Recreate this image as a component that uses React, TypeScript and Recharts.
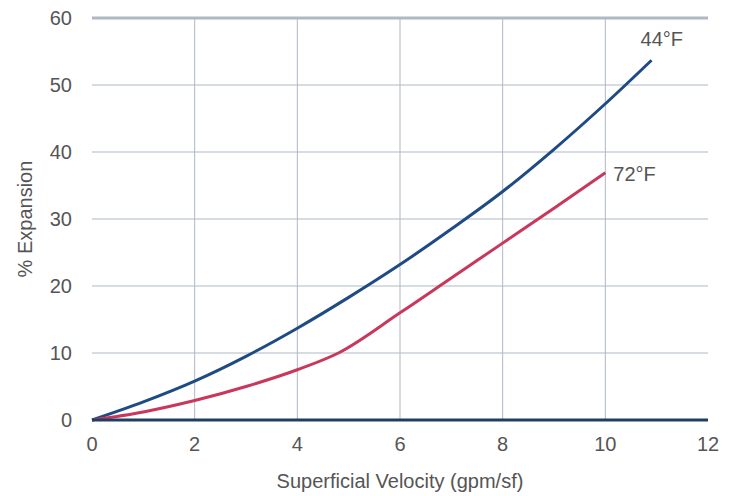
import React from 'react';
import { LineChart, Line, XAxis, YAxis, CartesianGrid, ReferenceLine } from 'recharts';

const xTicks = [0, 2, 4, 6, 8, 10, 12];
const yTicks = [0, 10, 20, 30, 40, 50, 60];
const gridX = [2, 4, 6, 8, 10];

const velocity44 = [0, 1, 2, 3, 4, 5, 6, 7, 8, 9, 10, 10.9];
const expansion44 = [0, 2.7, 5.8, 9.5, 13.7, 18.3, 23.2, 28.5, 34.1, 40.4, 47.2, 53.7];
const velocity72 = [0, 1, 2, 3, 4, 4.8, 6, 7, 8, 9, 10];
const expansion72 = [0, 1.2, 2.9, 5.0, 7.5, 10.0, 16.0, 21.2, 26.4, 31.6, 36.9];

const label44 = '44°F';
const label72 = '72°F';

const data44 = velocity44.map((x, i) => ({ x, y: expansion44[i] }));
const data72 = velocity72.map((x, i) => ({ x, y: expansion72[i] }));

const FONT = "'Liberation Sans', Arial, sans-serif";
const TEXT = '#555555';
const GRID = '#aeb9c4';
const BLUE = '#1f4b85';
const RED = '#c8385c';

const endLabel = (text: string, n: number, dx: number, dy: number) => (props: any) => {
  if (props.index !== n - 1) return null;
  return (
    <text
      x={props.x + dx}
      y={props.y + dy}
      fill={TEXT}
      fontSize={20}
      fontFamily={FONT}
      textAnchor="start"
      dominantBaseline="central"
    >
      {text}
    </text>
  );
};

export default function App() {
  return (
    <div style={{ position: 'absolute', left: 0, top: 0, background: '#fff' }}>
      <LineChart width={736} height={496} margin={{ top: 18, right: 28, left: 0, bottom: 0 }}>
        <CartesianGrid
          stroke={GRID}
          strokeWidth={1}
          horizontalValues={[10, 20, 30, 40, 50]}
          verticalCoordinatesGenerator={(p: any) => {
            const xa = p.xAxis;
            if (xa && typeof xa.scale === 'function') return gridX.map((v) => xa.scale(v));
            return gridX.map((v) => p.offset.left + (v / 12) * p.offset.width);
          }}
        />
        <XAxis
          type="number"
          dataKey="x"
          domain={[0, 12]}
          ticks={xTicks}
          interval={0}
          allowDuplicatedCategory={false}
          height={76}
          tickLine={false}
          tickSize={0}
          tickMargin={17}
          axisLine={{ stroke: '#1e3f5f', strokeWidth: 3 }}
          tick={{ fill: TEXT, fontSize: 20, fontFamily: FONT }}
          label={{
            value: 'Superficial Velocity (gpm/sf)',
            position: 'insideBottom',
            offset: 8,
            fill: TEXT,
            fontSize: 20,
            fontFamily: FONT,
          }}
        />
        <YAxis
          type="number"
          domain={[0, 60]}
          ticks={yTicks}
          interval={0}
          width={92}
          tickLine={false}
          axisLine={false}
          tickSize={0}
          tickMargin={20}
          tick={{ fill: TEXT, fontSize: 20, fontFamily: FONT }}
          label={{
            value: '% Expansion',
            angle: -90,
            position: 'insideLeft',
            offset: 25,
            fill: TEXT,
            fontSize: 20,
            fontFamily: FONT,
            style: { textAnchor: 'middle' },
          }}
        />
        <ReferenceLine y={60} stroke={GRID} strokeWidth={3} />
        <Line
          data={data44}
          dataKey="y"
          type="monotone"
          stroke={BLUE}
          strokeWidth={3}
          dot={false}
          isAnimationActive={false}
          label={endLabel(label44, data44.length, -11, -21)}
        />
        <Line
          data={data72}
          dataKey="y"
          type="monotone"
          stroke={RED}
          strokeWidth={3}
          dot={false}
          isAnimationActive={false}
          label={endLabel(label72, data72.length, 8, 1)}
        />
      </LineChart>
    </div>
  );
}
